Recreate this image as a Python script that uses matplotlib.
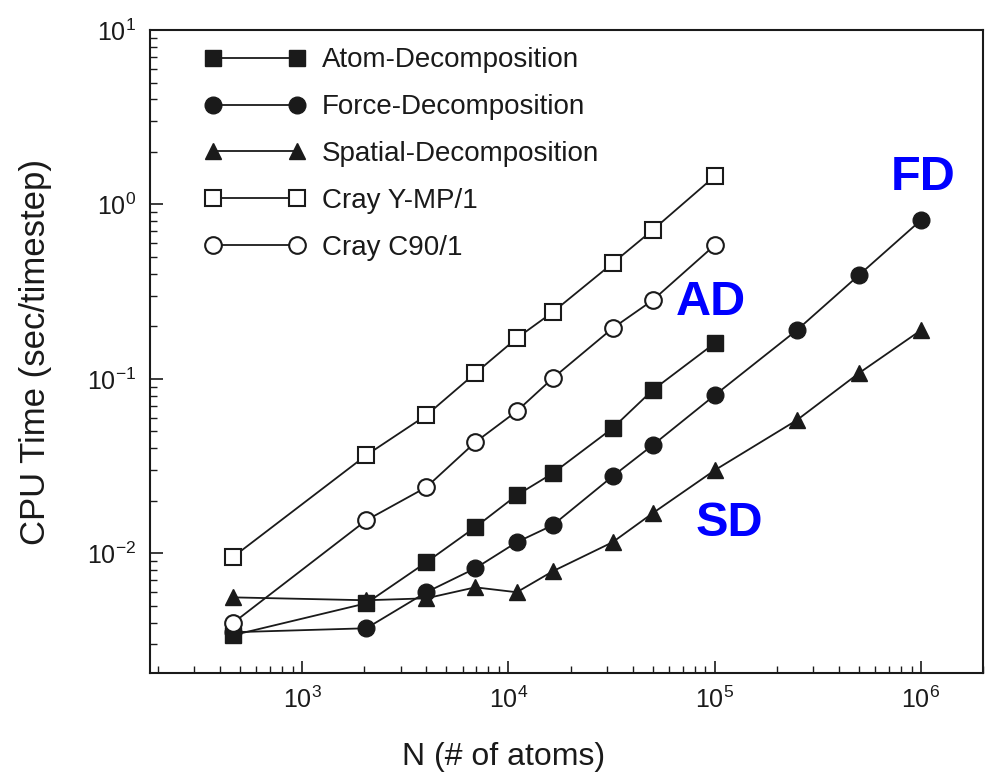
import matplotlib
matplotlib.use("Agg")
import matplotlib.pyplot as plt
from matplotlib.ticker import LogLocator, NullFormatter

plt.rcParams['font.family'] = ['Liberation Sans', 'DejaVu Sans']
plt.rcParams['mathtext.fontset'] = 'custom'
plt.rcParams['mathtext.rm'] = 'Liberation Sans'

# N values
n_small = [460, 2048, 4000, 6912, 10976, 16384, 32000, 50000, 100000]
n_large = [460, 2048, 4000, 6912, 10976, 16384, 32000, 50000, 100000, 250000, 500000, 1000000]

# CPU time (sec/timestep)
atom_dec = [0.00338, 0.00516, 0.00887, 0.0141, 0.0215, 0.0287, 0.0521, 0.0861, 0.160]
force_dec = [0.00352, 0.00371, 0.00597, 0.00819, 0.01156, 0.01446, 0.0276, 0.0416, 0.0805, 0.190, 0.393, 0.813]
spatial_dec = [0.00558, 0.00537, 0.00551, 0.00637, 0.00597, 0.00787, 0.01156, 0.01694, 0.0299, 0.0579, 0.1077, 0.190]
cray_ymp = [0.00947, 0.0365, 0.0618, 0.1077, 0.171, 0.241, 0.460, 0.713, 1.45]
cray_c90 = [0.00396, 0.01545, 0.0239, 0.0433, 0.0652, 0.1007, 0.195, 0.282, 0.584]

fig = plt.figure(figsize=(9.87, 7.72), dpi=100)
ax = fig.add_axes([0.152, 0.128, 0.844, 0.833])

ink = '#1a1a1a'
ms = 12
ax.plot(n_small, atom_dec, color=ink, lw=1.3, marker='s', ms=ms, label='Atom-Decomposition')
ax.plot(n_large, force_dec, color=ink, lw=1.3, marker='o', ms=ms, label='Force-Decomposition')
ax.plot(n_large, spatial_dec, color=ink, lw=1.3, marker='^', ms=ms, label='Spatial-Decomposition')
ax.plot(n_small, cray_ymp, color=ink, lw=1.3, marker='s', ms=ms, mfc='white', mew=1.5,
        label='Cray Y-MP/1')
ax.plot(n_small, cray_c90, color=ink, lw=1.3, marker='o', ms=ms, mfc='white', mew=1.5,
        label='Cray C90/1')

ax.set_xscale('log')
ax.set_yscale('log')
ax.set_xlim(183, 2.0e6)
ax.set_ylim(2.05e-3, 10)

ax.xaxis.set_major_locator(LogLocator(base=10, numticks=10))
ax.yaxis.set_major_locator(LogLocator(base=10, numticks=10))
ax.xaxis.set_minor_locator(LogLocator(base=10, subs=range(2, 10), numticks=20))
ax.yaxis.set_minor_locator(LogLocator(base=10, subs=range(2, 10), numticks=20))
ax.xaxis.set_minor_formatter(NullFormatter())
ax.yaxis.set_minor_formatter(NullFormatter())
ax.tick_params(which='both', direction='in', colors=ink, labelsize=18)
ax.tick_params(which='major', length=9, width=1.2, pad=10)
ax.tick_params(which='minor', length=5, width=1)
for s in ax.spines.values():
    s.set_color(ink)
    s.set_linewidth(1.5)

ax.set_xlabel('N (# of atoms)', fontsize=23, color=ink)
ax.xaxis.set_label_coords(0.425, -0.107)
ax.set_ylabel('CPU Time (sec/timestep)', fontsize=25, color=ink)
ax.yaxis.set_label_coords(-0.118, 0.5)

leg = ax.legend(loc='upper left', bbox_to_anchor=(0.0656, 0.973), frameon=False,
                numpoints=2, handlelength=3.62, handletextpad=0.61, labelspacing=0.75,
                borderpad=0, borderaxespad=0, fontsize=20)
for t in leg.get_texts():
    t.set_color(ink)

ax.text(1.02e6, 1.42, 'FD', color='blue', fontsize=35, fontweight='bold', ha='center', va='center')
ax.text(9.6e4, 0.275, 'AD', color='blue', fontsize=35, fontweight='bold', ha='center', va='center')
ax.text(1.18e5, 0.0148, 'SD', color='blue', fontsize=35, fontweight='bold', ha='center', va='center')

fig.savefig('out.png', dpi=100)
